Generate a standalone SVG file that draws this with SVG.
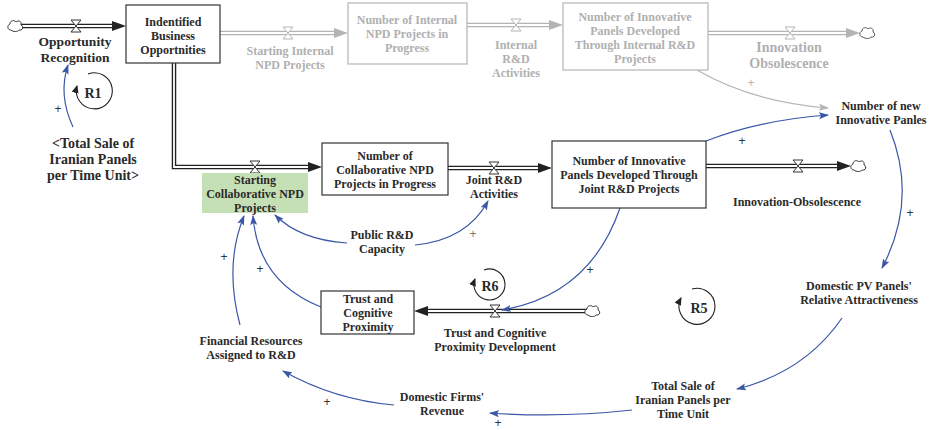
<svg xmlns="http://www.w3.org/2000/svg" width="935" height="430" viewBox="0 0 935 430">
  <style>
    text { font-family: "Liberation Serif", "Times New Roman", serif; font-weight: bold; font-size: 12px; fill: #2a2a2a; text-anchor: middle; }
    .big { font-size: 14px; }
    .grey { fill: #b0b0b0; }
    .stock { fill: #ffffff; stroke: #333333; stroke-width: 1.2; }
    .stock-grey { fill: #ffffff; stroke: #b4b4b4; stroke-width: 1.2; }
    .pipe-out { fill: none; stroke: #222222; stroke-width: 4.5; }
    .pipe-in { fill: none; stroke: #ffffff; stroke-width: 1.8; }
    .pipe-out-grey { fill: none; stroke: #b4b4b4; stroke-width: 4.5; }
    .head { fill: #222222; }
    .head-grey { fill: #b4b4b4; }
    .valve { fill: #ffffff; stroke: #333333; stroke-width: 1; }
    .valve-grey { fill: #ffffff; stroke: #b4b4b4; stroke-width: 1; }
    .link { fill: none; stroke: #3a56a6; stroke-width: 1.2; marker-end: url(#arrow-blue); }
    .link-grey { fill: none; stroke: #b4b4b4; stroke-width: 1.2; marker-end: url(#arrow-grey); }
    .loop { fill: none; stroke: #222222; stroke-width: 1.1; marker-end: url(#arrow-black); }
    .sign { font-family: "Liberation Sans", Arial, sans-serif; font-weight: normal; font-size: 12px; fill: #333333; }
  </style>
  <defs>
    <marker id="arrow-blue" markerWidth="10" markerHeight="8" refX="9" refY="4" orient="auto" markerUnits="userSpaceOnUse">
      <path d="M0,0.5 L10,4 L0,7.5 L2,4 Z" fill="#3a56a6"/>
    </marker>
    <marker id="arrow-grey" markerWidth="10" markerHeight="8" refX="9" refY="4" orient="auto" markerUnits="userSpaceOnUse">
      <path d="M0,0.5 L10,4 L0,7.5 L2,4 Z" fill="#b4b4b4"/>
    </marker>
    <marker id="arrow-black" markerWidth="8" markerHeight="8" refX="7" refY="4" orient="auto" markerUnits="userSpaceOnUse">
      <path d="M0,0.5 L8,4 L0,7.5 Z" fill="#222222"/>
    </marker>
    <path id="cloud" d="M-4,4 C-8,4 -8,-1 -5,-2 C-5,-6 0,-6 1,-4 C3,-6 7,-5 6,-1 C9,0 8,5 4,4 C3,6 -2,6 -4,4 Z"/>
    <path id="valve-shape" d="M-5,-6 H5 L-5,6 H5 Z"/>
  </defs>

  <!-- Flow pipes -->
  <g id="flows">
    <!-- Opportunity Recognition -->
    <path class="pipe-out" d="M20,26 H114"/>
    <path class="pipe-in" d="M20,26 H114"/>
    <polygon class="head" points="126,26 112,21 112,31"/>
    <use href="#cloud" x="15" y="26" fill="#fff" stroke="#333" stroke-width="1"/>
    <use href="#valve-shape" x="76" y="26" class="valve"/>

    <!-- Starting Internal NPD Projects -->
    <path class="pipe-out-grey" d="M220,33 H336"/>
    <path class="pipe-in" d="M220,33 H336"/>
    <polygon class="head-grey" points="348,33 334,28 334,38"/>
    <use href="#valve-shape" x="288" y="33" class="valve-grey"/>

    <!-- Internal R&D Activities -->
    <path class="pipe-out-grey" d="M467,25 H551"/>
    <path class="pipe-in" d="M467,25 H551"/>
    <polygon class="head-grey" points="563,25 549,20 549,30"/>
    <use href="#valve-shape" x="516" y="25" class="valve-grey"/>

    <!-- Innovation Obsolescence -->
    <path class="pipe-out-grey" d="M708,33 H848"/>
    <path class="pipe-in" d="M708,33 H848"/>
    <polygon class="head-grey" points="860,33 846,28 846,38"/>
    <use href="#cloud" x="867" y="33" fill="#fff" stroke="#555" stroke-width="1"/>
    <use href="#valve-shape" x="790" y="33" class="valve-grey"/>

    <!-- Starting Collaborative NPD Projects -->
    <path class="pipe-out" d="M174,63 V167 H310"/>
    <path class="pipe-in" d="M174,63 V167 H310"/>
    <polygon class="head" points="322,167 308,162 308,172"/>
    <use href="#valve-shape" x="255" y="167" class="valve"/>

    <!-- Joint R&D Activities -->
    <path class="pipe-out" d="M448,168 H540"/>
    <path class="pipe-in" d="M448,168 H540"/>
    <polygon class="head" points="552,168 538,163 538,173"/>
    <use href="#valve-shape" x="494" y="168" class="valve"/>

    <!-- Innovation-Obsolescence -->
    <path class="pipe-out" d="M706,166 H839"/>
    <path class="pipe-in" d="M706,166 H839"/>
    <polygon class="head" points="851,166 837,161 837,171"/>
    <use href="#cloud" x="858" y="166" fill="#fff" stroke="#333" stroke-width="1"/>
    <use href="#valve-shape" x="798" y="166" class="valve"/>

    <!-- Trust and Cognitive Proximity Development -->
    <path class="pipe-out" d="M426,311 H587"/>
    <path class="pipe-in" d="M426,311 H587"/>
    <polygon class="head" points="414,311 428,306 428,316"/>
    <use href="#cloud" x="592" y="311" fill="#fff" stroke="#333" stroke-width="1"/>
    <use href="#valve-shape" x="495" y="311" class="valve"/>
  </g>

  <!-- Causal links -->
  <g id="links">
    <path class="link" d="M73,127 Q58,95 68,65"/>
    <path class="link-grey" d="M697,70 Q752,102 828,108"/>
    <path class="link" d="M706,141 Q760,120 828,115"/>
    <path class="link" d="M890,130 Q918,200 882,268"/>
    <path class="link" d="M842,318 Q805,372 737,389"/>
    <path class="link" d="M632,410 Q560,418 490,413"/>
    <path class="link" d="M394,405 Q335,400 283,371"/>
    <path class="link" d="M240,325 Q224,265 244,216"/>
    <path class="link" d="M321,307 Q258,282 253,216"/>
    <path class="link" d="M347,243 Q300,240 275,215"/>
    <path class="link" d="M415,245 Q467,240 488,201"/>
    <path class="link" d="M620,208 Q590,295 502,310"/>
  </g>

  <!-- Link polarity signs -->
  <g id="signs">
    <text class="sign" x="58" y="113">+</text>
    <text class="sign grey" x="751" y="87" style="fill:#b4b4b4">+</text>
    <text class="sign" x="742" y="145">+</text>
    <text class="sign" x="910" y="217">+</text>
    <text class="sign" x="498" y="427">+</text>
    <text class="sign" x="327" y="406">+</text>
    <text class="sign" x="224" y="261">+</text>
    <text class="sign" x="260" y="273">+</text>
    <text class="sign" x="473" y="238" style="fill:#777">+</text>
    <text class="sign" x="590" y="274">+</text>
  </g>

  <!-- Loop markers -->
  <g id="loop-R1">
    <path class="loop" d="M88,74 A18,18 0 1 1 77,86"/>
    <text class="big" x="93" y="98">R1</text>
  </g>
  <g id="loop-R6">
    <path class="loop" d="M484,270 A15.5,15.5 0 1 1 475,279"/>
    <text class="big" x="490" y="291">R6</text>
  </g>
  <g id="loop-R5">
    <path class="loop" d="M692,289 A18,18 0 1 1 681,298"/>
    <text class="big" x="699" y="313">R5</text>
  </g>

  <!-- Stocks -->
  <g id="stock-identified">
    <rect class="stock" x="126" y="5" width="94" height="58"/>
    <text x="173" y="26">Indentified</text>
    <text x="173" y="40">Business</text>
    <text x="173" y="54">Opportnities</text>
  </g>
  <g id="stock-internal-npd">
    <rect class="stock-grey" x="348" y="3" width="119" height="61"/>
    <text class="grey" x="407" y="24">Number of Internal</text>
    <text class="grey" x="407" y="38">NPD Projects in</text>
    <text class="grey" x="407" y="52">Progress</text>
  </g>
  <g id="stock-internal-panels">
    <rect class="stock-grey" x="563" y="3" width="145" height="67"/>
    <text class="grey" x="635" y="21">Number of Innovative</text>
    <text class="grey" x="635" y="35">Panels Developed</text>
    <text class="grey" x="635" y="49">Through Internal R&amp;D</text>
    <text class="grey" x="635" y="63">Projects</text>
  </g>
  <g id="stock-collab-npd">
    <rect class="stock" x="322" y="143" width="126" height="52"/>
    <text x="385" y="160">Number of</text>
    <text x="385" y="174">Collaborative NPD</text>
    <text x="385" y="188">Projects in Progress</text>
  </g>
  <g id="stock-joint-panels">
    <rect class="stock" x="552" y="141" width="154" height="67"/>
    <text x="629" y="165">Number of Innovative</text>
    <text x="629" y="179">Panels Developed Through</text>
    <text x="629" y="193">Joint R&amp;D Projects</text>
  </g>
  <g id="stock-trust">
    <rect class="stock" x="321" y="291" width="93" height="43"/>
    <text x="368" y="303">Trust and</text>
    <text x="368" y="317">Cognitive</text>
    <text x="368" y="331">Proximity</text>
  </g>

  <!-- Flow labels -->
  <g id="flow-opportunity">
    <text class="big" x="75" y="46" style="font-size:13.5px">Opportunity</text>
    <text class="big" x="75" y="62" style="font-size:13.5px">Recognition</text>
  </g>
  <g id="flow-starting-internal">
    <text class="grey" x="290" y="55">Starting Internal</text>
    <text class="grey" x="290" y="69">NPD Projects</text>
  </g>
  <g id="flow-internal-rd">
    <text class="grey" x="516" y="49">Internal</text>
    <text class="grey" x="516" y="63">R&amp;D</text>
    <text class="grey" x="516" y="77">Activities</text>
  </g>
  <g id="flow-innovation-obsolescence">
    <text class="big grey" x="789" y="52">Innovation</text>
    <text class="big grey" x="789" y="68">Obsolescence</text>
  </g>
  <g id="flow-starting-collab">
    <rect x="202" y="173" width="106" height="40" fill="#c6e0b5"/>
    <text x="255" y="184">Starting</text>
    <text x="255" y="198">Collaborative NPD</text>
    <text x="255" y="212">Projects</text>
  </g>
  <g id="flow-joint-rd">
    <text x="494" y="184">Joint R&amp;D</text>
    <text x="494" y="198">Activities</text>
  </g>
  <g id="flow-innovation-obsolescence-2">
    <text x="797" y="206">Innovation-Obsolescence</text>
  </g>
  <g id="flow-trust-development">
    <text x="495" y="337">Trust and Cognitive</text>
    <text x="495" y="351">Proximity Development</text>
  </g>

  <!-- Auxiliary variables -->
  <g id="aux-total-sale-shadow">
    <text class="big" x="93" y="148">&lt;Total Sale of</text>
    <text class="big" x="93" y="164">Iranian Panels</text>
    <text class="big" x="93" y="180">per Time Unit&gt;</text>
  </g>
  <g id="aux-new-panels">
    <text x="881" y="110">Number of new</text>
    <text x="881" y="124">Innovative Panles</text>
  </g>
  <g id="aux-attractiveness">
    <text x="859" y="290">Domestic PV Panels'</text>
    <text x="859" y="304">Relative Attractiveness</text>
  </g>
  <g id="aux-total-sale">
    <text x="683" y="390">Total Sale of</text>
    <text x="683" y="404">Iranian Panels per</text>
    <text x="683" y="418">Time Unit</text>
  </g>
  <g id="aux-revenue">
    <text x="442" y="401">Domestic Firms'</text>
    <text x="442" y="415">Revenue</text>
  </g>
  <g id="aux-financial">
    <text x="251" y="345">Financial Resources</text>
    <text x="251" y="359">Assigned to R&amp;D</text>
  </g>
  <g id="aux-public-rd">
    <text x="382" y="239">Public R&amp;D</text>
    <text x="382" y="253">Capacity</text>
  </g>
</svg>
